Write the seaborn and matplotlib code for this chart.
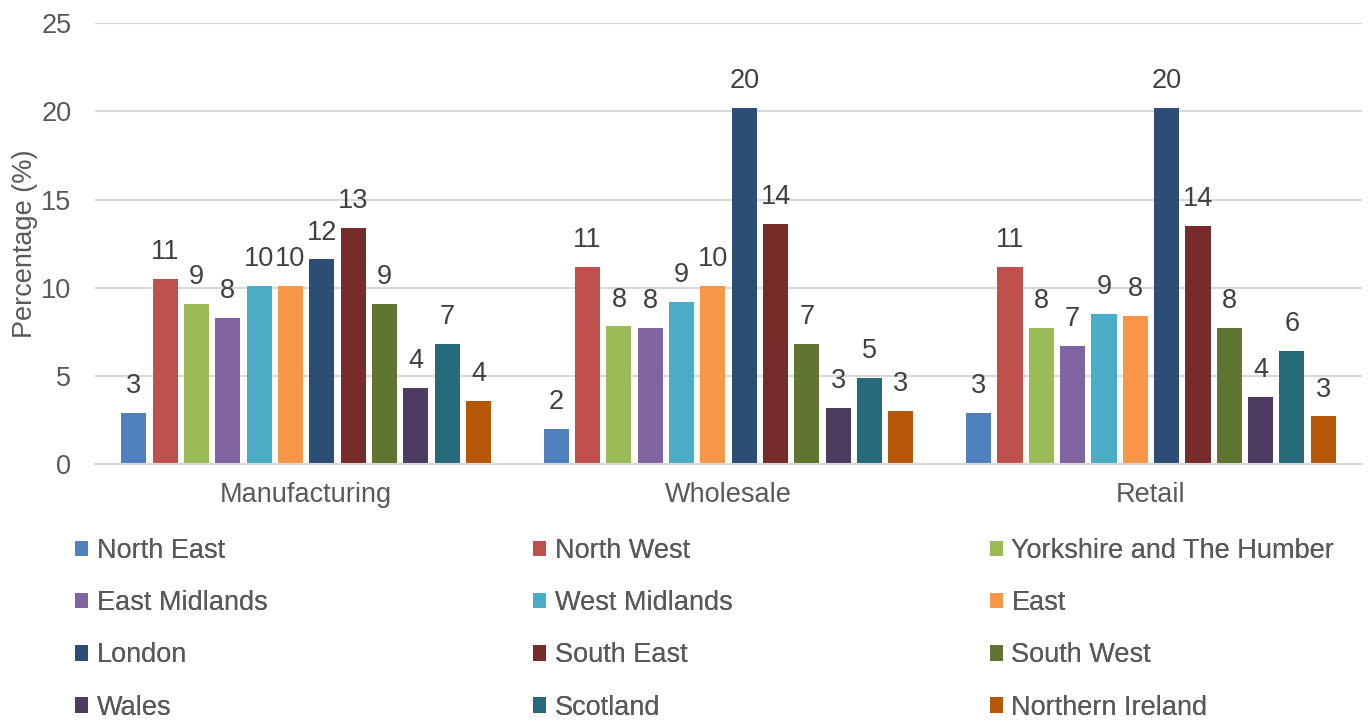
import matplotlib
matplotlib.use("Agg")
import matplotlib.pyplot as plt
import seaborn as sns
import pandas as pd

# Sectors and regions
sectors = ["Manufacturing", "Wholesale", "Retail"]
regions = ["North East", "North West", "Yorkshire and The Humber", "East Midlands",
           "West Midlands", "East", "London", "South East", "South West",
           "Wales", "Scotland", "Northern Ireland"]

# Percentage share by region for each sector
manufacturing = [2.9, 10.5, 9.1, 8.3, 10.1, 10.1, 11.6, 13.4, 9.1, 4.3, 6.8, 3.6]
wholesale = [2.0, 11.2, 7.8, 7.7, 9.2, 10.1, 20.2, 13.6, 6.8, 3.2, 4.9, 3.0]
retail = [2.9, 11.2, 7.7, 6.7, 8.5, 8.4, 20.2, 13.5, 7.7, 3.8, 6.4, 2.7]

colors = ["#4F81BD", "#C0504D", "#9BBB59", "#8064A2", "#4BACC6", "#F79646",
          "#2C4D75", "#772C2A", "#5F7530", "#4D3B62", "#276A7C", "#B65708"]

rows = []
for sector, vals in zip(sectors, [manufacturing, wholesale, retail]):
    for region, v in zip(regions, vals):
        rows.append({"Sector": sector, "Region": region, "Value": v})
df = pd.DataFrame(rows)

sns.set_theme(style="white")
plt.rcParams["font.family"] = ["Liberation Sans", "DejaVu Sans"]

text_grey = "#595959"
label_dark = "#404040"
fs = 19.5

fig = plt.figure(figsize=(13.7, 7.25), dpi=100)
ax = fig.add_axes([0.0693, 0.36, 0.925, 0.608])

sns.barplot(data=df, x="Sector", y="Value", hue="Region", order=sectors,
            hue_order=regions, palette=colors, width=0.89, gap=0.2,
            linewidth=0, saturation=1, errorbar=None, ax=ax)

# Value labels above each bar
for cont in ax.containers:
    labels = [f"{int(v + 0.5)}" for v in cont.datavalues]
    ax.bar_label(cont, labels=labels, padding=10, fontsize=fs, color=label_dark)

ax.set_ylim(0, 25)
ax.set_xlim(-0.5, 2.5)
ax.set_yticks([0, 5, 10, 15, 20, 25])
ax.yaxis.grid(True, color="#D9D9D9", linewidth=1.5)
ax.set_axisbelow(True)
for side in ["left", "right", "top"]:
    ax.spines[side].set_visible(False)
ax.spines["bottom"].set_color("#D9D9D9")
ax.spines["bottom"].set_linewidth(1.5)
ax.tick_params(axis="both", length=0, labelsize=fs, labelcolor=text_grey)
ax.tick_params(axis="y", pad=17)
ax.tick_params(axis="x", pad=13)
ax.set_xlabel("")
ax.set_ylabel("Percentage (%)", fontsize=fs, color=text_grey, labelpad=2)

# Legend: three columns, filled row by row
leg = ax.legend_
handles = list(leg.legend_handles)
labels = [t.get_text() for t in leg.texts]
leg.remove()
col_x = [0.0547, 0.389, 0.7225]
for c, x in enumerate(col_x):
    idx = list(range(c, len(regions), 3))
    lg = fig.legend([handles[i] for i in idx], [labels[i] for i in idx],
                    loc="upper left", bbox_to_anchor=(x, 0.258),
                    frameon=False, fontsize=fs, labelcolor=text_grey,
                    handlelength=0.5, handleheight=0.5, handletextpad=0.3,
                    labelspacing=0.97, borderpad=0, borderaxespad=0)
    fig.add_artist(lg)

fig.savefig("out.png", dpi=100)
